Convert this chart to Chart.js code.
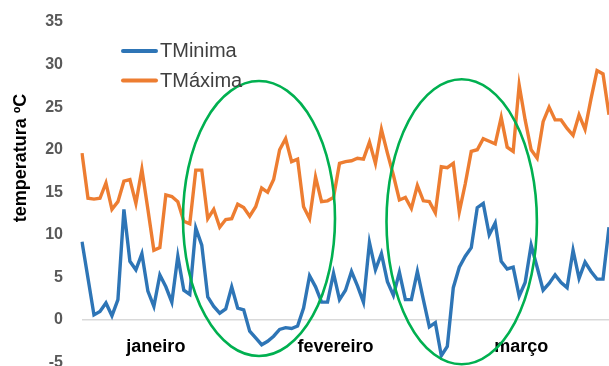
<!DOCTYPE html>
<html>
<head>
<meta charset="utf-8">
<script src="https://cdn.jsdelivr.net/npm/chart.js@4/dist/chart.umd.min.js"></script>
<style>
  html, body { margin: 0; padding: 0; overflow: hidden; background: #ffffff; }
  #wrap { position: relative; width: 609px; height: 366px; overflow: hidden; }
</style>
</head>
<body>
<div id="wrap"><canvas id="chart" width="609" height="366"></canvas></div>
<script>
// Daily temperatures, January to March
const monthLabels = { 12: 'janeiro', 42: 'fevereiro', 73: 'março' };

const tMinima = [
  9.2, 4.9, 0.6, 1.0, 2.0, 0.5, 2.4, 13.0, 6.9, 5.9,
  7.8, 3.4, 1.6, 5.3, 3.9, 2.1, 7.5, 3.5, 3.0, 10.8,
  8.8, 2.7, 1.6, 0.8, 1.3, 3.9, 1.4, 1.2, -1.3, -2.1,
  -2.9, -2.5, -1.9, -1.1, -0.9, -1.0, -0.7, 1.4, 5.2, 3.9,
  2.1, 2.1, 5.5, 2.4, 3.5, 5.7, 4.0, 2.1, 9.1, 5.9,
  7.8, 4.5, 2.9, 5.6, 2.4, 2.4, 5.7, 2.4, -0.8, -0.3,
  -4.2, -3.1, 3.8, 6.2, 7.5, 8.5, 13.2, 13.7, 10.0, 11.4,
  6.9, 6.0, 6.2, 2.8, 4.4, 8.8, 6.2, 3.5, 4.3, 5.3,
  4.4, 3.8, 8.2, 4.9, 6.8, 5.7, 4.8, 4.8, 10.9
];

const tMaxima = [
  19.6, 14.3, 14.2, 14.3, 16.1, 13.0, 13.9, 16.3, 16.5, 13.7,
  17.7, 13.0, 8.2, 8.5, 14.7, 14.5, 13.9, 11.6, 11.3, 17.6,
  17.6, 11.9, 13.0, 10.9, 11.8, 11.9, 13.6, 13.2, 12.2, 13.3,
  15.5, 15.0, 16.5, 20.0, 21.3, 18.6, 18.9, 13.3, 11.9, 16.8,
  13.9, 14.0, 14.4, 18.4, 18.6, 18.7, 19.0, 18.9, 20.9, 18.4,
  22.4, 19.6, 17.0, 14.1, 14.4, 13.1, 15.8, 14.0, 13.9, 12.6,
  18.0, 17.9, 18.4, 12.7, 16.0, 19.8, 20.0, 21.3, 21.0, 20.7,
  23.8, 20.3, 19.8, 27.6, 23.5, 20.0, 19.0, 23.3, 25.0, 23.5,
  23.5, 22.5, 21.7, 24.1, 22.4, 26.0, 29.3, 28.9, 24.1
];

const dayLabels = tMinima.map((_, i) => monthLabels[i] || '');

const FONT = '"Liberation Sans", Arial, Helvetica, sans-serif';

// Legend drawn inside the plot, top-left
const innerLegend = {
  id: 'innerLegend',
  afterDraw(chart) {
    const ctx = chart.ctx;
    ctx.save();
    chart.data.datasets.forEach((ds, i) => {
      const y = 51 + i * 29.5;
      ctx.strokeStyle = ds.borderColor;
      ctx.lineWidth = 4;
      ctx.lineCap = 'round';
      ctx.beginPath();
      ctx.moveTo(123, y);
      ctx.lineTo(156, y);
      ctx.stroke();
      ctx.fillStyle = '#404040';
      ctx.font = '20px ' + FONT;
      ctx.textBaseline = 'middle';
      ctx.textAlign = 'left';
      ctx.fillText(ds.label, 160, y + 0.5);
    });
    ctx.restore();
  }
};

// Vertical axis title
const axisTitle = {
  id: 'axisTitle',
  afterDraw(chart) {
    const ctx = chart.ctx;
    ctx.save();
    ctx.translate(21, 158);
    ctx.rotate(-Math.PI / 2);
    ctx.fillStyle = '#000000';
    ctx.font = 'bold 18px ' + FONT;
    ctx.textAlign = 'center';
    ctx.textBaseline = 'middle';
    ctx.fillText('temperatura ºC', 0, 0);
    ctx.restore();
  }
};

// Highlight ellipses around the cold spells
const highlights = {
  id: 'highlights',
  afterDatasetsDraw(chart) {
    const ctx = chart.ctx;
    ctx.save();
    ctx.strokeStyle = '#00b050';
    ctx.lineWidth = 2.6;
    ctx.beginPath();
    ctx.ellipse(259, 218.5, 76, 137.5, 0, 0, Math.PI * 2);
    ctx.stroke();
    ctx.beginPath();
    ctx.ellipse(461.7, 221.8, 75.2, 142.5, 0, 0, Math.PI * 2);
    ctx.stroke();
    ctx.restore();
  }
};

new Chart(document.getElementById('chart'), {
  type: 'line',
  data: {
    labels: dayLabels,
    datasets: [
      {
        label: 'TMinima',
        data: tMinima,
        borderColor: '#2e75b6',
        borderWidth: 3.4,
        pointRadius: 0,
        tension: 0,
        fill: false
      },
      {
        label: 'TMáxima',
        data: tMaxima,
        borderColor: '#ed7d31',
        borderWidth: 3.4,
        pointRadius: 0,
        tension: 0,
        fill: false
      }
    ]
  },
  options: {
    responsive: false,
    animation: false,
    layout: { padding: { top: 22, bottom: 3.4, left: 0, right: 0 } },
    plugins: {
      legend: { display: false },
      tooltip: { enabled: false }
    },
    scales: {
      x: {
        type: 'category',
        position: { y: 0 },
        grid: { display: false, drawTicks: false },
        border: { display: false },
        ticks: {
          autoSkip: false,
          maxRotation: 0,
          minRotation: 0,
          padding: 16,
          labelOffset: 2,
          color: '#000000',
          font: { family: FONT, size: 18, weight: 'bold' }
        },
        afterFit(scale) {
          scale.paddingLeft = 0;
          scale.paddingRight = 0;
        }
      },
      y: {
        min: -5,
        max: 35,
        afterFit(scale) {
          scale.width = 82;
          scale.paddingTop = 0;
          scale.paddingBottom = 0;
        },
        grid: {
          drawTicks: false,
          lineWidth: 1.5,
          color: (c) => (c.tick && c.tick.value === 0 ? '#d9d9d9' : 'rgba(0,0,0,0)')
        },
        border: { display: false },
        ticks: {
          stepSize: 5,
          padding: 19,
          color: '#595959',
          font: { family: FONT, size: 16, weight: 'bold' }
        }
      }
    }
  },
  plugins: [highlights, innerLegend, axisTitle]
});
</script>
</body>
</html>
